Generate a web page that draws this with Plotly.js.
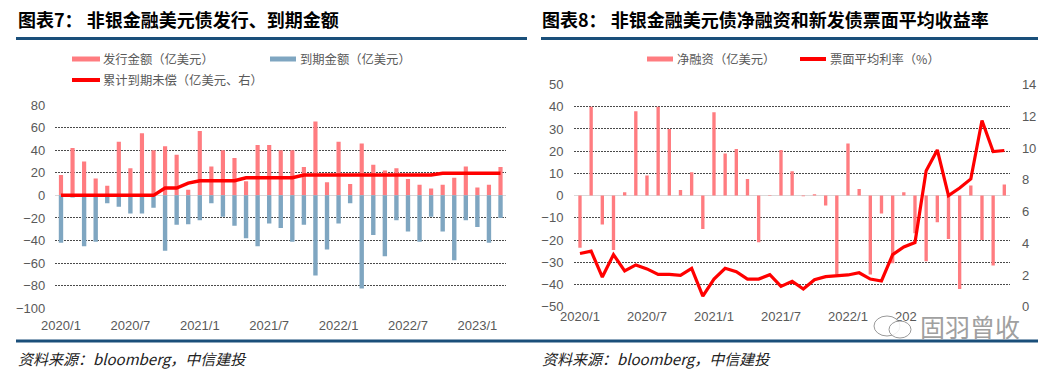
<!DOCTYPE html>
<html>
<head>
<meta charset="utf-8">
<script src="https://cdn.plot.ly/plotly-3.0.1.min.js"></script>
<style>
html,body{margin:0;padding:0;background:#fff;}
#chart{width:1054px;height:375px;}
</style>
</head>
<body>
<div id="chart"></div>
<script>
// ---------- data ----------
const months = ["2020/1","2020/2","2020/3","2020/4","2020/5","2020/6","2020/7","2020/8","2020/9","2020/10","2020/11","2020/12",
  "2021/1","2021/2","2021/3","2021/4","2021/5","2021/6","2021/7","2021/8","2021/9","2021/10","2021/11","2021/12",
  "2022/1","2022/2","2022/3","2022/4","2022/5","2022/6","2022/7","2022/8","2022/9","2022/10","2022/11","2022/12",
  "2023/1","2023/2","2023/3"];
const tickLabels = ["2020/1","2020/7","2021/1","2021/7","2022/1","2022/7","2023/1"];
// on 图表8 the 2023/1 label is hidden under the watermark in the reference
const tickLabels8 = ["2020/1","2020/7","2021/1","2021/7","2022/1","2022/7"];

// 图表7
const issuance = [18, 42, 30, 15, 8.5, 47.5, 24, 55, 40, 43.5, 36, 5, 57, 25.5, 40, 33, 12.5, 44.5, 44.5, 40, 40, 25, 65.5, 11.5,
  47.5, 10, 46, 27, 22, 24, 14.5, 9.5, 6, 9.5, 15.5, 25.5, 7, 9.5, 25];
const maturity = [-42, -2, -45, -41, -7, -10, -16, -16, -11, -49, -26, -25.5, -22, -7, -19, -27, -38, -45, -25, -29, -41, -26, -71, -48,
  -25, -7, -82.5, -35, -54, -22, -32, -41, -19, -32, -57.5, -22, -28, -42, -20];
const cumulative = [0, 0, 0, 0, 0, 0, 0, 0, 0, 6.5, 6.5, 10.8, 13, 13, 13, 13, 15.6, 15.6, 15.6, 15.6, 15.6, 18, 18, 18,
  18, 18, 18, 18, 18, 18, 18, 18, 18, 19.5, 19.5, 19.5, 19.5, 19.5, 19.5];

// 图表8
const netFinancing = [-23.5, 40, -13, -24.5, 1.5, 38, 9, 40, 30, 2.5, 10.5, -15, 37.5, 19, 21, 7.5, -21, -0.2, 20.5, 11, -0.3, 0.6, -4.5, -35.5,
  23.5, 3, -35.5, -8, -30.5, 1.5, -17, -29.5, -12, -19.5, -42, 4.5, -20, -31.5, 5];
const couponRate = [3.35, 3.5, 1.87, 3.28, 2.25, 2.63, 2.38, 2.04, 2.04, 1.98, 2.42, 0.67, 1.74, 2.42, 2.21, 1.74, 1.74, 2.02, 1.28, 1.6, 1.11, 1.7, 1.89, 1.93,
  2.0, 2.14, 1.74, 1.62, 3.28, 3.76, 4.04, 8.56, 9.88, 7.0, 7.48, 8.05, 11.73, 9.78, 9.84];

// ---------- styling ----------
const W = 1054, H = 375;
const px = x => x / W;
const py = y => 1 - y / H;
const PINK = '#FF7C80', BLUE = '#7FA6C1', RED = '#FF0000', NAVY = '#1A4F7A';
const GRID = '#4A4A4A', TICK = '#595959';
const tickFont = {family: 'Liberation Sans, Arial, sans-serif', size: 13, color: TICK};
const cjk = 'Noto Sans CJK SC, sans-serif';

const traces = [
  {type: 'bar', x: months, y: issuance, xaxis: 'x', yaxis: 'y', marker: {color: PINK}, width: 0.36},
  {type: 'bar', x: months, y: maturity, xaxis: 'x', yaxis: 'y', marker: {color: BLUE}, width: 0.38},
  {type: 'scatter', mode: 'lines', x: months, y: cumulative, xaxis: 'x', yaxis: 'y', line: {color: RED, width: 3.5}},
  {type: 'bar', x: months, y: netFinancing, xaxis: 'x2', yaxis: 'y2', marker: {color: PINK}, width: 0.3},
  {type: 'scatter', mode: 'lines', x: months, y: couponRate, xaxis: 'x2', yaxis: 'y3', line: {color: RED, width: 3.2}}
];

const xCommon = {type: 'category', range: [-0.5, months.length - 0.5], showgrid: false, showline: false, zeroline: false,
  ticks: '', tickmode: 'array', tickfont: tickFont, fixedrange: true};
const yCommon = {showgrid: true, gridcolor: GRID, griddash: '2px,1px', gridwidth: 1, zeroline: true, zerolinecolor: '#D9D9D9',
  zerolinewidth: 1, showline: false, ticks: '', tickfont: tickFont, fixedrange: true};

const shapes = [
  // title underline
  {type: 'line', xref: 'paper', yref: 'paper', x0: px(16), x1: px(527), y0: py(38.5), y1: py(38.5), line: {color: NAVY, width: 3}},
  {type: 'line', xref: 'paper', yref: 'paper', x0: px(541), x1: px(1038), y0: py(38.5), y1: py(38.5), line: {color: NAVY, width: 3}},
  // bottom rule
  {type: 'line', xref: 'paper', yref: 'paper', x0: px(16), x1: px(1038), y0: py(341), y1: py(341), line: {color: NAVY, width: 3}},
  // legend swatches chart 7
  {type: 'line', xref: 'paper', yref: 'paper', x0: px(72), x1: px(100), y0: py(59), y1: py(59), line: {color: PINK, width: 5}},
  {type: 'line', xref: 'paper', yref: 'paper', x0: px(270), x1: px(296), y0: py(59), y1: py(59), line: {color: BLUE, width: 5}},
  {type: 'line', xref: 'paper', yref: 'paper', x0: px(72), x1: px(100), y0: py(80), y1: py(80), line: {color: RED, width: 4}},
  // legend swatches chart 8
  {type: 'line', xref: 'paper', yref: 'paper', x0: px(647), x1: px(673), y0: py(59), y1: py(59), line: {color: PINK, width: 5}},
  {type: 'line', xref: 'paper', yref: 'paper', x0: px(800), x1: px(826), y0: py(59), y1: py(59), line: {color: RED, width: 4}},
  // watermark backdrop + logo
  {type: 'rect', xref: 'paper', yref: 'paper', x0: px(917), x1: px(1024), y0: py(339), y1: py(311), line: {width: 0}, fillcolor: '#FFFFFF', layer: 'above'},
  {type: 'circle', xref: 'paper', yref: 'paper', x0: px(874), x1: px(900), y0: py(336), y1: py(316), line: {color: '#9A9A9A', width: 1}, fillcolor: 'rgba(255,255,255,0.85)', layer: 'above'},
  {type: 'circle', xref: 'paper', yref: 'paper', x0: px(889), x1: px(911), y0: py(338), y1: py(321), line: {color: '#9A9A9A', width: 1}, fillcolor: 'rgba(255,255,255,0.85)', layer: 'above'}
];

function txt(x, y, text, size, opts) {
  return Object.assign({xref: 'paper', yref: 'paper', x: px(x), y: py(y), xanchor: 'left', yanchor: 'middle', showarrow: false,
    text: text, font: {family: cjk, size: size, color: '#595959'}}, opts || {});
}

const annotations = [
  txt(16, 19, '<b>图表7： 非银金融美元债发行、到期金额</b>', 18, {font: {family: cjk, size: 18, color: '#000'}}),
  txt(540, 19, '<b>图表8： 非银金融美元债净融资和新发债票面平均收益率</b>', 18, {font: {family: cjk, size: 18, color: '#000'}}),
  txt(101, 59, '发行金额（亿美元）', 12.3),
  txt(298, 59, '到期金额（亿美元）', 12.3),
  txt(101, 80, '累计到期未偿（亿美元、右）', 12.3),
  txt(675, 59, '净融资（亿美元）', 12.3),
  txt(828, 59, '票面平均利率（%）', 12.3),
  txt(16, 358, '资料来源：bloomberg，中信建投', 15, {font: {family: cjk, size: 15, color: '#222', style: 'italic'}}),
  txt(540, 358, '资料来源：bloomberg，中信建投', 15, {font: {family: cjk, size: 15, color: '#222', style: 'italic'}}),
  txt(918, 326, '固羽曾收', 25, {font: {family: cjk, size: 25, color: '#A0A0A0'}})
];

const layout = {
  width: W, height: H, margin: {l: 0, r: 0, t: 0, b: 0}, paper_bgcolor: '#fff', plot_bgcolor: '#fff',
  showlegend: false, barmode: 'overlay',
  xaxis: Object.assign({}, xCommon, {domain: [px(55.2), px(506.3)], anchor: 'y', tickvals: tickLabels, ticktext: tickLabels, ticklabelstandoff: 8}),
  yaxis: Object.assign({}, yCommon, {domain: [py(308.3), py(105)], range: [-100, 80], tick0: 0, dtick: 20, anchor: 'x', ticklabelstandoff: 9}),
  xaxis2: Object.assign({}, xCommon, {domain: [px(574.4), px(1009.9)], anchor: 'y2', tickvals: tickLabels8, ticktext: tickLabels8, ticklabelstandoff: 0}),
  yaxis2: Object.assign({}, yCommon, {domain: [py(306.7), py(84.5)], range: [-50, 50], tick0: 0, dtick: 10, anchor: 'x2', ticklabelstandoff: 10}),
  yaxis3: {overlaying: 'y2', side: 'right', anchor: 'x2', range: [0, 14], tick0: 0, dtick: 2, showgrid: false, zeroline: false,
    showline: false, ticks: '', tickfont: tickFont, ticklabelstandoff: 11, fixedrange: true},
  shapes: shapes, annotations: annotations
};

Plotly.newPlot('chart', traces, layout, {staticPlot: true, displayModeBar: false});
</script>
</body>
</html>
